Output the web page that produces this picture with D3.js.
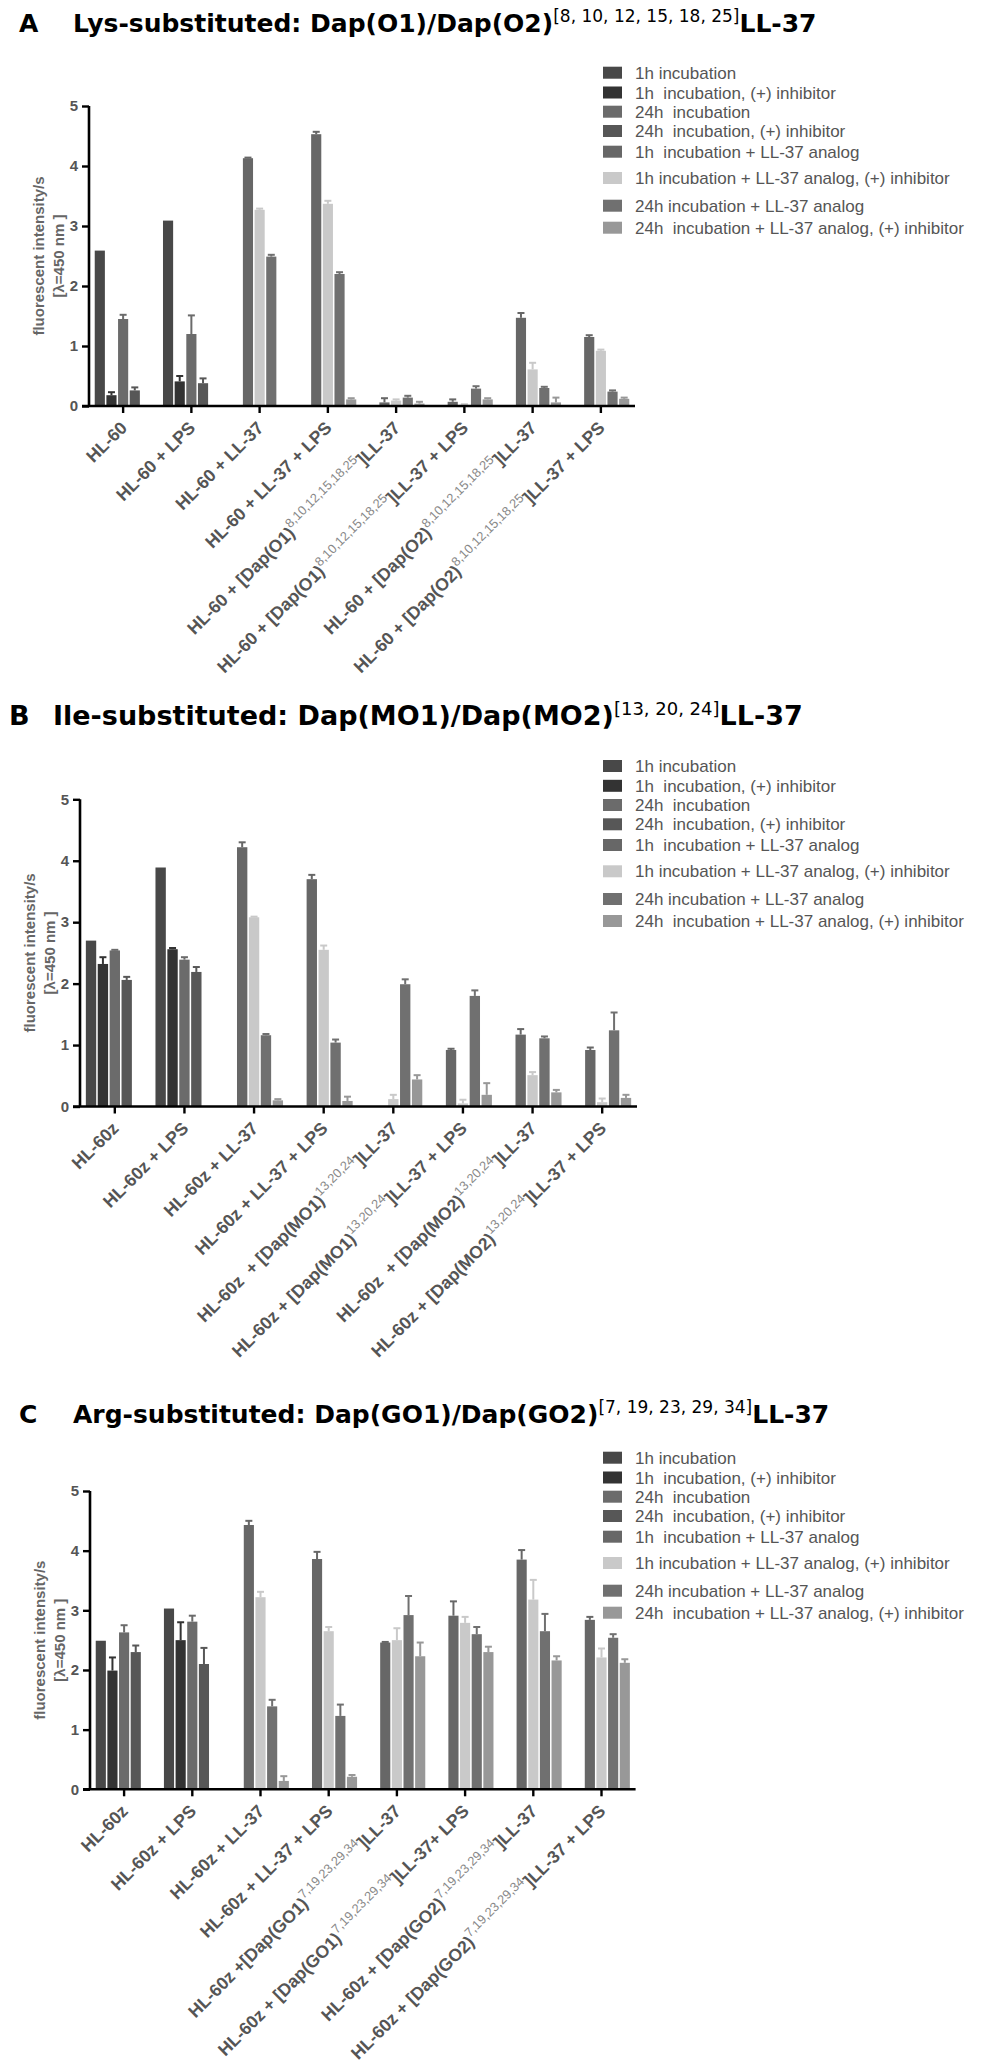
<!DOCTYPE html>
<html><head><meta charset="utf-8">
<script src="https://cdn.jsdelivr.net/npm/d3@7/dist/d3.min.js"></script>
<style>
body{margin:0;background:#fff;}
svg text{white-space:pre;}
</style></head><body>
<svg id="fig" width="993" height="2068"></svg>
<script>
// ---------- data ----------
const seriesNames = [
  "1h incubation",
  "1h  incubation, (+) inhibitor",
  "24h  incubation",
  "24h  incubation, (+) inhibitor",
  "1h  incubation + LL-37 analog",
  "1h incubation + LL-37 analog, (+) inhibitor",
  "24h incubation + LL-37 analog",
  "24h  incubation + LL-37 analog, (+) inhibitor"
];
const yTicks = [0, 1, 2, 3, 4, 5];

// group labels: [main, superscript, rest]
const labelsA = [
  ["HL-60"], ["HL-60 + LPS"], ["HL-60 + LL-37"], ["HL-60 + LL-37 + LPS"],
  ["HL-60 + [Dap(O1)", "8,10,12,15,18,25", "]LL-37"],
  ["HL-60 + [Dap(O1)", "8,10,12,15,18,25", "]LL-37 + LPS"],
  ["HL-60 + [Dap(O2)", "8,10,12,15,18,25", "]LL-37"],
  ["HL-60 + [Dap(O2)", "8,10,12,15,18,25", "]LL-37 + LPS"]
];
const labelsB = [
  ["HL-60z"], ["HL-60z + LPS"], ["HL-60z + LL-37"], ["HL-60z + LL-37 + LPS"],
  ["HL-60z  + [Dap(MO1)", "13,20,24", "]LL-37"],
  ["HL-60z + [Dap(MO1)", "13,20,24", "]LL-37 + LPS"],
  ["HL-60z  + [Dap(MO2)", "13,20,24", "]LL-37"],
  ["HL-60z + [Dap(MO2)", "13,20,24", "]LL-37 + LPS"]
];
const labelsC = [
  ["HL-60z"], ["HL-60z + LPS"], ["HL-60z + LL-37"], ["HL-60z + LL-37 + LPS"],
  ["HL-60z +[Dap(GO1)", "7,19,23,29,34", "]LL-37"],
  ["HL-60z + [Dap(GO1)", "7,19,23,29,34", "]LL-37+ LPS"],
  ["HL-60z + [Dap(GO2)", "7,19,23,29,34", "]LL-37"],
  ["HL-60z + [Dap(GO2)", "7,19,23,29,34", "]LL-37 + LPS"]
];

// means: one row per series (8 series x 8 groups), null = not measured
const meanA = [
  [2.59, 3.09, null, null, null, null, null, null],
  [0.18, 0.41, null, null, null, null, null, null],
  [1.45, 1.20, null, null, null, null, null, null],
  [0.26, 0.38, null, null, null, null, null, null],
  [null, null, 4.13, 4.53, 0.06, 0.07, 1.47, 1.15],
  [null, null, 3.27, 3.37, 0.09, 0.02, 0.61, 0.92],
  [null, null, 2.49, 2.20, 0.14, 0.29, 0.30, 0.24],
  [null, null, 0.00, 0.11, 0.04, 0.11, 0.06, 0.12]
];
const errA = [
  [0, 0, null, null, null, null, null, null],
  [0.05, 0.09, null, null, null, null, null, null],
  [0.07, 0.31, null, null, null, null, null, null],
  [0.05, 0.08, null, null, null, null, null, null],
  [null, null, 0.01, 0.04, 0.07, 0.04, 0.08, 0.03],
  [null, null, 0.02, 0.05, 0.02, 0.01, 0.11, 0.02],
  [null, null, 0.03, 0.03, 0.03, 0.04, 0.02, 0.02],
  [null, null, 0, 0.02, 0.03, 0.02, 0.08, 0.02]
];
const meanB = [
  [2.70, 3.89, null, null, null, null, null, null],
  [2.32, 2.56, null, null, null, null, null, null],
  [2.54, 2.39, null, null, null, null, null, null],
  [2.06, 2.19, null, null, null, null, null, null],
  [null, null, 4.22, 3.70, 0.00, 0.92, 1.17, 0.92],
  [null, null, 3.08, 2.55, 0.12, 0.05, 0.51, 0.07],
  [null, null, 1.16, 1.04, 1.99, 1.80, 1.11, 1.24],
  [null, null, 0.10, 0.09, 0.44, 0.19, 0.23, 0.14]
];
const errB = [
  [0, 0, null, null, null, null, null, null],
  [0.11, 0.02, null, null, null, null, null, null],
  [0.01, 0.04, null, null, null, null, null, null],
  [0.05, 0.08, null, null, null, null, null, null],
  [null, null, 0.08, 0.07, 0, 0.02, 0.09, 0.04],
  [null, null, 0.01, 0.07, 0.07, 0.06, 0.05, 0.06],
  [null, null, 0.02, 0.05, 0.08, 0.09, 0.03, 0.29],
  [null, null, 0.02, 0.07, 0.07, 0.19, 0.04, 0.05]
];
const meanC = [
  [2.49, 3.03, null, null, null, null, null, null],
  [1.99, 2.50, null, null, null, null, null, null],
  [2.63, 2.81, null, null, null, null, null, null],
  [2.30, 2.10, null, null, null, null, null, null],
  [null, null, 4.43, 3.86, 2.46, 2.91, 3.85, 2.84],
  [null, null, 3.22, 2.65, 2.50, 2.79, 3.18, 2.21],
  [null, null, 1.39, 1.23, 2.92, 2.60, 2.65, 2.54],
  [null, null, 0.14, 0.21, 2.23, 2.30, 2.16, 2.12]
];
const errC = [
  [0, 0, null, null, null, null, null, null],
  [0.22, 0.30, null, null, null, null, null, null],
  [0.12, 0.10, null, null, null, null, null, null],
  [0.11, 0.27, null, null, null, null, null, null],
  [null, null, 0.07, 0.12, 0.01, 0.24, 0.16, 0.05],
  [null, null, 0.09, 0.07, 0.20, 0.10, 0.33, 0.15],
  [null, null, 0.11, 0.19, 0.32, 0.12, 0.29, 0.06],
  [null, null, 0.08, 0.03, 0.23, 0.09, 0.07, 0.06]
];

// ---------- styles / layout ----------
const seriesColors = ["#484848", "#333333", "#6b6b6b", "#575757", "#676767", "#c9c9c9", "#707070", "#989898"];
const legendOffsets = [-33.3, -13.5, 5.7, 25, 45.7, 72, 99.7, 121.7];

const panels = [
  { letter: "A", title: "Lys-substituted: Dap(O1)/Dap(O2)", sup: "[8, 10, 12, 15, 18, 25]", tail: "LL-37",
    letterX: 19, titleX: 73, titleY: 32, titleSize: 25, supSize: 17,
    x0: 89, x1: 635, y0: 406, y5: 106, labels: labelsA, mean: meanA, err: errA },
  { letter: "B", title: "Ile-substituted: Dap(MO1)/Dap(MO2)", sup: "[13, 20, 24]", tail: "LL-37",
    letterX: 9, titleX: 53, titleY: 725, titleSize: 27, supSize: 18,
    x0: 80, x1: 637, y0: 1106.5, y5: 799.3, labels: labelsB, mean: meanB, err: errB },
  { letter: "C", title: "Arg-substituted: Dap(GO1)/Dap(GO2)", sup: "[7, 19, 23, 29, 34]", tail: "LL-37",
    letterX: 19, titleX: 73, titleY: 1423, titleSize: 25, supSize: 17,
    x0: 90, x1: 635.6, y0: 1789.3, y5: 1491, labels: labelsC, mean: meanC, err: errC }
];

const svg = d3.select("#fig");
const slotOf = s => (s < 4 ? s : s - 3);

panels.forEach(p => {
  const g = svg.append("g");

  // title
  g.append("text").attr("x", p.letterX).attr("y", p.titleY)
    .attr("font-family", "DejaVu Sans").attr("font-weight", "bold").attr("font-size", p.titleSize)
    .attr("fill", "#000").text(p.letter);
  const t = g.append("text").attr("x", p.titleX).attr("y", p.titleY)
    .attr("font-family", "DejaVu Sans").attr("font-weight", "bold").attr("font-size", p.titleSize).attr("fill", "#000");
  t.append("tspan").text(p.title);
  t.append("tspan").attr("dy", -10).attr("font-size", p.supSize).attr("font-weight", "normal").text(p.sup);
  t.append("tspan").attr("dy", 10).text(p.tail);

  // scales
  const x = d3.scaleBand().domain(d3.range(p.labels.length)).range([p.x0, p.x1]).paddingInner(0).paddingOuter(0);
  const half = x.step() * 0.416;
  const sub = d3.scaleBand().domain([0, 1, 2, 3, 4]).range([-half, half]).paddingInner(0.13);
  const y = d3.scaleLinear().domain([0, 5]).range([p.y0, p.y5]);
  const cx = i => x(i) + x.bandwidth() / 2;

  // bars
  const bars = [];
  p.mean.forEach((row, s) => row.forEach((v, i) => {
    if (v !== null) bars.push({ s, i, v, e: p.err[s][i] || 0 });
  }));
  g.selectAll("rect.bar").data(bars).join("rect")
    .attr("class", "bar")
    .attr("x", d => cx(d.i) + sub(slotOf(d.s)))
    .attr("width", sub.bandwidth())
    .attr("y", d => y(d.v))
    .attr("height", d => y(0) - y(d.v))
    .attr("fill", d => seriesColors[d.s]);

  // error bars (upper only)
  const eb = g.selectAll("g.err").data(bars.filter(d => d.e > 0)).join("g").attr("class", "err")
    .attr("stroke", d => seriesColors[d.s]).attr("stroke-width", 2);
  eb.append("line")
    .attr("x1", d => cx(d.i) + sub(slotOf(d.s)) + sub.bandwidth() / 2)
    .attr("x2", d => cx(d.i) + sub(slotOf(d.s)) + sub.bandwidth() / 2)
    .attr("y1", d => y(d.v)).attr("y2", d => y(d.v + d.e));
  eb.append("line")
    .attr("x1", d => cx(d.i) + sub(slotOf(d.s)) + sub.bandwidth() / 2 - 3.5)
    .attr("x2", d => cx(d.i) + sub(slotOf(d.s)) + sub.bandwidth() / 2 + 3.5)
    .attr("y1", d => y(d.v + d.e)).attr("y2", d => y(d.v + d.e));

  // y axis
  const yAxis = d3.axisLeft(y).tickValues(yTicks).tickSize(7).tickPadding(4).tickFormat(d3.format("d"));
  const ya = g.append("g").attr("transform", `translate(${p.x0},0)`).call(yAxis);
  ya.select(".domain").attr("d", `M0,${p.y5}V${p.y0}`).attr("stroke", "#000").attr("stroke-width", 2.6);
  ya.selectAll(".tick line").attr("stroke", "#000").attr("stroke-width", 2.4);
  ya.selectAll(".tick text").attr("font-family", "Liberation Sans").attr("font-weight", "bold")
    .attr("font-size", 15).attr("fill", "#555");

  // x axis
  const xAxis = d3.axisBottom(x).tickSize(7).tickFormat("");
  const xa = g.append("g").attr("transform", `translate(0,${p.y0})`).call(xAxis);
  xa.select(".domain").attr("d", `M${p.x0 - 7},0H${p.x1}`).attr("stroke", "#000").attr("stroke-width", 2.6);
  xa.selectAll(".tick line").attr("stroke", "#000").attr("stroke-width", 2.4);

  // x labels
  p.labels.forEach((lab, i) => {
    const tx = g.append("text")
      .attr("transform", `translate(${cx(i) + 5},${p.y0 + 23}) rotate(-45)`)
      .attr("text-anchor", "end")
      .attr("font-family", "Liberation Sans").attr("font-weight", "bold").attr("font-size", 17.6)
      .attr("fill", "#555");
    tx.append("tspan").text(lab[0]);
    if (lab.length > 1) {
      tx.append("tspan").attr("dy", -8).attr("font-size", 12.8).attr("font-weight", "normal")
        .attr("fill", "#888").text(lab[1]);
      tx.append("tspan").attr("dy", 8).text(lab[2]);
    }
  });

  // y axis title
  const ym = (p.y0 + p.y5) / 2;
  g.append("text").attr("transform", `translate(${p.x0 - 45},${ym}) rotate(-90)`)
    .attr("text-anchor", "middle").attr("font-family", "Liberation Sans").attr("font-weight", "bold")
    .attr("font-size", 15).attr("fill", "#666").text("fluorescent intensity/s");
  g.append("text").attr("transform", `translate(${p.x0 - 25},${ym}) rotate(-90)`)
    .attr("text-anchor", "middle").attr("font-family", "Liberation Sans").attr("font-weight", "bold")
    .attr("font-size", 15).attr("fill", "#666").text("[λ=450 nm ]");

  // legend
  const lg = g.selectAll("g.leg").data(seriesNames).join("g").attr("class", "leg")
    .attr("transform", (d, k) => `translate(603,${p.y5 + legendOffsets[k]})`);
  lg.append("rect").attr("x", 0).attr("y", -6).attr("width", 19).attr("height", 12)
    .attr("fill", (d, k) => seriesColors[k]);
  lg.append("text").attr("x", 32).attr("y", 0).attr("dy", "0.36em")
    .attr("font-family", "Liberation Sans").attr("font-size", 17).attr("fill", "#555").text(d => d);
});
</script>
</body></html>
